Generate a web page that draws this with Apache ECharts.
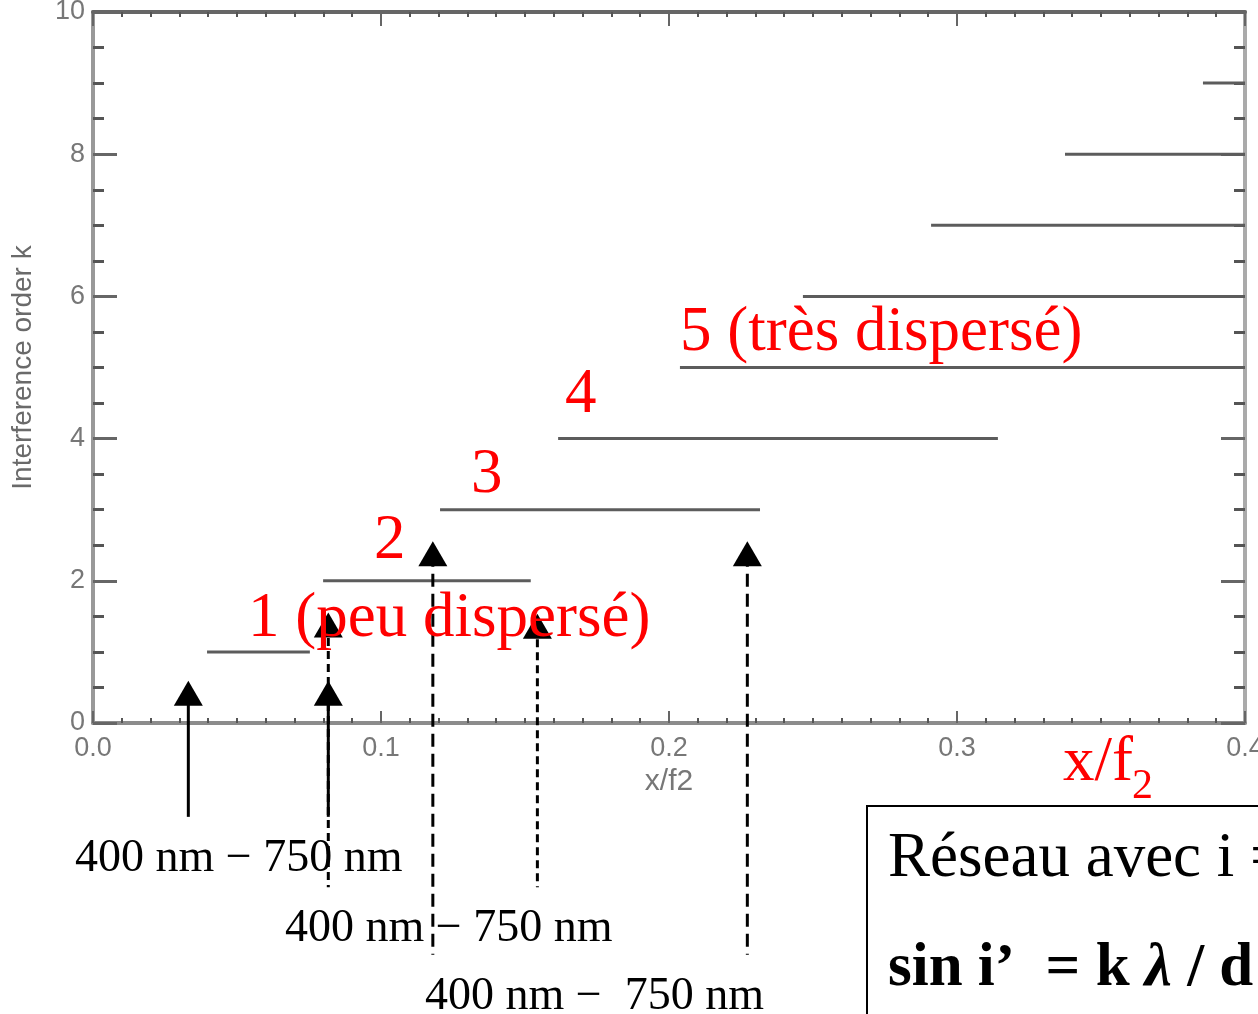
<!DOCTYPE html>
<html><head><meta charset="utf-8">
<script src="https://cdn.jsdelivr.net/npm/echarts@6/dist/echarts.min.js"></script>
<style>html,body{margin:0;padding:0;background:#fff}#c{width:1258px;height:1014px}</style>
</head><body><div id="c"></div>
<script>
// ---- data ----
const xTickLabels = ['0.0', '0.1', '0.2', '0.3', '0.4'];
const yTickLabels = ['0', '2', '4', '6', '8', '10'];
const orders   = [1, 2, 3, 4, 5, 6, 7, 8, 9];
const segStart = [0.0396, 0.0799, 0.1205, 0.1615, 0.2038, 0.2465, 0.2910, 0.3375, 0.3854];
const segEnd   = [0.0753, 0.1520, 0.2316, 0.3142, 0.4, 0.4, 0.4, 0.4, 0.4];
const arrowX     = [0.0331, 0.0817, 0.0817, 0.1180, 0.1543, 0.2272];
const arrowHeadY = [0.42, 0.42, 1.38, 2.38, 1.36, 2.38];
const arrowTailY = [-1.32, -1.32, -2.31, -3.26, -2.31, -3.26];
const orderLabels = ['1 (peu dispersé)', '2', '3', '4', '5 (très dispersé)'];
const rangeLabels = ['400 nm \u2212 750 nm', '400 nm \u2212 750 nm', '400 nm \u2212  750 nm'];

// ---- styling ----
const arrowDash = ['solid', 'solid', [8, 5], [13, 7], [8, 5], [13, 7]];
const SANS = 'Liberation Sans';
const SERIF = 'Liberation Serif';

const chart = echarts.init(document.getElementById('c'), null, {renderer: 'canvas'});

const series = [];
orders.forEach((k, i) => {
  series.push({
    type: 'line', data: [[segStart[i], k], [segEnd[i], k]],
    symbol: 'none', silent: true, z: 2,
    lineStyle: {color: '#5c5c5c', width: 3}
  });
});
arrowX.forEach((x, i) => {
  series.push({
    type: 'line', data: [[x, arrowHeadY[i]], [x, arrowTailY[i]]],
    symbol: 'none', clip: false, silent: true, z: 3,
    lineStyle: {color: '#000', width: 3, type: arrowDash[i], cap: 'butt'}
  });
});
series.push({
  type: 'scatter', data: arrowX.map((x, i) => [x, arrowHeadY[i]]),
  symbol: 'triangle', symbolSize: [29, 25], clip: false, z: 4,
  itemStyle: {color: '#000', opacity: 1}
});

function xAxisDef(pos, showLabel, lineColor, tickLen) {
  return {
    type: 'value', position: pos, min: 0, max: 0.4, interval: 0.1,
    axisLine: {show: true, onZero: false, lineStyle: {color: lineColor, width: 4}},
    axisTick: {show: true, inside: true, length: tickLen, lineStyle: {color: '#666', width: 2}},
    minorTick: {show: true, splitNumber: 10, length: 5, lineStyle: {color: '#555', width: 2}},
    splitLine: {show: false}, minorSplitLine: {show: false},
    axisLabel: {show: showLabel, color: '#777', fontSize: 27, fontFamily: SANS, margin: 12,
      formatter: v => xTickLabels[Math.round(v * 10)] || ''},
    name: showLabel ? 'x/f2' : '', nameLocation: 'middle', nameGap: 36,
    nameTextStyle: {color: '#777', fontSize: 30, fontFamily: SANS}
  };
}
function yAxisDef(pos, showLabel, lineColor) {
  return {
    type: 'value', position: pos, min: 0, max: 10, interval: 2,
    axisLine: {show: true, onZero: false, lineStyle: {color: lineColor, width: 4}},
    axisTick: {show: true, inside: true, length: 24, lineStyle: {color: '#666', width: 3}},
    minorTick: {show: true, splitNumber: 4, length: 11, lineStyle: {color: '#555', width: 3}},
    splitLine: {show: false}, minorSplitLine: {show: false},
    axisLabel: {show: showLabel, color: '#777', fontSize: 27, fontFamily: SANS, margin: 8,
      formatter: v => yTickLabels[Math.round(v / 2)] || ''},
    name: showLabel ? 'Interference order k' : '', nameLocation: 'middle', nameGap: 56,
    nameTextStyle: {color: '#6a6a6a', fontSize: 28, fontFamily: SANS}
  };
}

const red = '#ff0000';
function txt(text, x, y, size, color) {
  return {
    type: 'text', x: x, y: y, z: 100, silent: true,
    style: {text: text, fill: color, font: size + 'px "' + SERIF + '"',
      textAlign: 'left', textVerticalAlign: 'middle'}
  };
}

const graphics = [
  txt(orderLabels[0], 248, 619, 63, red),
  txt(orderLabels[1], 374, 541, 63, red),
  txt(orderLabels[2], 471, 475, 63, red),
  txt(orderLabels[3], 565, 395, 63, red),
  txt(orderLabels[4], 680, 333, 63, red),
  txt('x/f', 1063, 763, 63, red),
  txt('2', 1132, 787, 42, red),
  txt(rangeLabels[0], 75, 859, 46, '#000'),
  txt(rangeLabels[1], 285, 929, 46, '#000'),
  txt(rangeLabels[2], 425, 997, 46, '#000'),
  {type: 'rect', z: 90, silent: true, shape: {x: 867, y: 806, width: 600, height: 400},
   style: {fill: '#fff', stroke: '#000', lineWidth: 2}},
  txt('Réseau avec i = 0', 888, 859, 63, '#000'),
  {type: 'text', x: 888, y: 969, z: 100, silent: true,
   style: {text: '{b|sin i\u2019  = k }{l|\u03bb}{b| / d}', textVerticalAlign: 'middle',
     rich: {
       b: {fontFamily: SERIF, fontSize: 61, fontWeight: 'bold', fill: '#000', color: '#000'},
       l: {fontFamily: SERIF, fontSize: 61, fontWeight: 'bold', fontStyle: 'italic', fill: '#000', color: '#000'}
     }}}
];

chart.setOption({
  animation: false,
  backgroundColor: '#ffffff',
  grid: {left: 93, right: 13, top: 12, bottom: 291, containLabel: false, outerBoundsMode: 'none'},
  xAxis: [xAxisDef('bottom', true, '#8c8c8c', 12), xAxisDef('top', false, '#666', 14)],
  yAxis: [yAxisDef('left', true, '#999'), yAxisDef('right', false, '#aaa')],
  series: series,
  graphic: graphics
});
</script>
</body></html>
